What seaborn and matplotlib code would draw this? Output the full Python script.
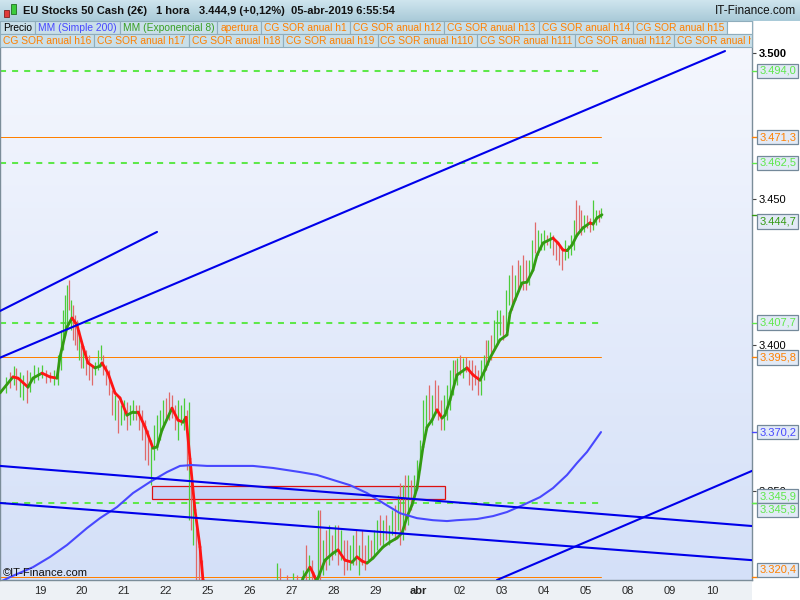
import numpy as np
import matplotlib
matplotlib.use("Agg")
import matplotlib.pyplot as plt
import matplotlib.transforms as mtransforms
from matplotlib.collections import LineCollection
from matplotlib.colors import LinearSegmentedColormap
from matplotlib.patches import Rectangle
import seaborn as sns

W, H = 800, 600

# time axis is in hourly bars, 21 bars per session, bar 0 = start of 19 mar
bars_per_day = 21
day_labels = ['19', '20', '21', '22', '25', '26', '27', '28', '29', 'abr',
              '02', '03', '04', '05', '08', '09', '10']

# hourly candles (high / low / up-bar)
bar_t = [-17, -15, -13, -12, -10, -8.5, -6.5, -5, -3, -1,
         1, 3, 5, 7, 9, 10.5, 11.5, 12.5, 13.5, 14.5,
         15.5, 16.5, 17.5, 18.5, 19.5, 20.5, 21.5, 23, 24.5, 26,
         27.5, 29, 30.5, 31.5, 33, 34.5, 36, 37.5, 39, 40.5,
         42, 43.5, 45, 46.5, 48, 49.5, 51, 52.5, 54, 55.5,
         57, 58.5, 60, 61.5, 63, 64.5, 66, 67.5, 69, 70.5,
         72, 73.5, 74.5, 75.5, 76.5, 78, 79.5, 81,
         118.5, 120, 123.5, 126.5, 128.5,
         131.5, 133, 134.5, 136, 137.5, 139, 140, 141.5, 143, 144.5,
         146, 147.5, 149, 150.5, 152, 153.5, 155, 156.5, 158, 159.5,
         161, 162.5, 164, 165.5, 167, 168.5, 170, 171.5, 173, 174.5,
         176, 177.5, 179, 180, 181.5, 182.5, 184, 185.5, 187, 188.5,
         190, 191.5, 193, 194.5, 196, 197.5, 199, 200.5, 202, 203.5,
         205, 206.5, 207.5, 208.5, 210, 211.5, 213, 214.5, 216, 217.5,
         219, 220.5, 222, 223, 224, 225.5, 227, 228.5, 230, 231.5,
         233, 234.5, 236, 237.5, 239, 240, 241.5, 243, 244.5, 246,
         247.5, 249, 250.5, 252, 253.5, 255, 256.5, 258, 259.5, 261,
         262.5, 264, 265.5, 267, 268, 269.5, 270.5, 272, 273.5, 275,
         276.5, 278, 279.5, 280.5]
bar_hi = [3389.1, 3390.8, 3392.8, 3392.2, 3390.8, 3389.8, 3391.5, 3390.8, 3393.2, 3392.5,
          3393.2, 3391.5, 3390.8, 3391.5, 3396.6, 3405.2, 3412.0, 3417.2, 3420.6, 3422.3,
          3415.5, 3413.7, 3410.3, 3408.6, 3405.2, 3400.0, 3399.0, 3398.3, 3396.6, 3393.2,
          3394.2, 3398.3, 3400.0, 3396.6, 3393.2, 3391.5, 3384.6, 3382.9, 3381.2, 3379.5,
          3381.2, 3380.5, 3379.5, 3381.2, 3379.5, 3379.5, 3377.8, 3374.3, 3370.9, 3367.5,
          3372.6, 3376.0, 3377.8, 3381.2, 3381.9, 3383.9, 3382.9, 3379.5, 3381.2, 3379.5,
          3381.9, 3377.8, 3380.5, 3353.8, 3346.9, 3340.0, 3333.2, 3326.3,
          3325.3, 3323.6, 3321.2, 3321.9, 3321.2,
          3322.9, 3331.5, 3328.0, 3326.3, 3321.2, 3343.5, 3343.5, 3333.2, 3336.6, 3338.3,
          3334.9, 3338.3, 3338.3, 3336.6, 3333.2, 3333.2, 3331.5, 3334.9, 3336.6, 3331.5,
          3336.6, 3331.5, 3334.9, 3333.2, 3336.6, 3340.0, 3341.8, 3340.0, 3341.8, 3338.3,
          3343.5, 3345.2, 3348.6, 3352.7, 3352.0, 3355.5, 3355.5, 3353.8, 3355.5, 3360.6,
          3367.5, 3381.2, 3382.9, 3386.3, 3382.9, 3388.0, 3386.3, 3381.2, 3382.9, 3386.3,
          3391.5, 3394.9, 3394.9, 3395.6, 3396.6, 3395.6, 3395.9, 3394.9, 3394.9, 3393.2,
          3391.5, 3394.9, 3396.6, 3401.8, 3401.8, 3403.5, 3408.6, 3412.0, 3412.0, 3410.3,
          3418.9, 3424.0, 3427.5, 3424.0, 3429.2, 3427.5, 3430.9, 3429.2, 3429.2, 3436.0,
          3442.2, 3439.5, 3438.4, 3439.5, 3437.7, 3438.8, 3437.7, 3436.0, 3434.3, 3432.6,
          3436.0, 3434.3, 3437.7, 3442.9, 3449.7, 3448.0, 3446.3, 3444.6, 3444.6, 3443.6,
          3449.7, 3446.3, 3446.3, 3447.0]
bar_lo = [3383.6, 3385.3, 3386.3, 3384.6, 3382.2, 3381.2, 3380.2, 3383.9, 3387.0, 3388.0,
          3388.7, 3387.0, 3387.4, 3386.3, 3386.3, 3391.5, 3398.3, 3403.5, 3406.9, 3412.0,
          3405.2, 3401.8, 3400.0, 3398.3, 3394.9, 3392.2, 3392.2, 3389.8, 3388.0, 3386.3,
          3389.8, 3391.5, 3394.9, 3389.8, 3386.3, 3382.9, 3376.0, 3374.3, 3369.9, 3372.6,
          3374.3, 3370.9, 3372.6, 3374.3, 3374.3, 3370.9, 3367.5, 3360.6, 3358.9, 3352.0,
          3360.6, 3364.0, 3367.5, 3371.6, 3374.3, 3374.3, 3375.0, 3370.9, 3367.5, 3372.6,
          3370.9, 3357.2, 3340.0, 3336.6, 3331.5, 3316.1, 3314.4, 3312.7,
          3310.0, 3308.0, 3310.0, 3312.0, 3311.0,
          3317.8, 3319.5, 3319.5, 3316.1, 3316.1, 3319.5, 3319.5, 3321.2, 3322.9, 3324.6,
          3326.3, 3328.0, 3324.6, 3326.3, 3321.2, 3322.9, 3322.9, 3324.6, 3324.6, 3321.2,
          3324.6, 3322.9, 3326.3, 3326.3, 3328.0, 3329.8, 3331.5, 3331.5, 3333.2, 3331.5,
          3334.9, 3333.2, 3336.6, 3331.5, 3333.2, 3336.6, 3338.3, 3343.5, 3346.9, 3350.3,
          3357.2, 3365.8, 3370.9, 3374.3, 3372.6, 3377.8, 3374.3, 3370.9, 3370.9, 3374.3,
          3377.8, 3382.9, 3388.0, 3386.3, 3389.8, 3388.7, 3390.8, 3386.3, 3384.6, 3386.3,
          3382.9, 3382.9, 3388.0, 3391.5, 3393.2, 3394.9, 3398.3, 3400.0, 3403.5, 3401.8,
          3405.2, 3413.7, 3412.0, 3415.5, 3418.9, 3420.6, 3418.9, 3418.9, 3420.6, 3425.7,
          3431.6, 3430.9, 3432.6, 3432.6, 3434.3, 3433.3, 3430.9, 3429.2, 3427.5, 3425.7,
          3429.2, 3429.9, 3430.9, 3432.6, 3437.7, 3439.5, 3437.7, 3438.8, 3440.2, 3438.8,
          3439.5, 3441.2, 3442.2, 3443.6]
bar_up = [1, 0, 1, 0, 1, 1, 0, 1, 1, 1,
          1, 0, 0, 1, 1, 1, 1, 1, 1, 0,
          1, 0, 0, 0, 1, 0, 1, 0, 0, 0,
          1, 1, 1, 0, 0, 0, 0, 1, 0, 1,
          1, 0, 1, 1, 0, 0, 0, 0, 0, 1,
          1, 1, 1, 1, 0, 0, 0, 0, 1, 1,
          1, 0, 1, 0, 1, 0, 0, 0,
          1, 0, 0, 1, 0,
          1, 0, 1, 0, 0, 1, 0, 1, 0, 1,
          0, 1, 0, 1, 0, 0, 1, 1, 0, 1,
          0, 0, 1, 0, 1, 1, 0, 1, 0, 1,
          1, 0, 1, 0, 1, 0, 1, 0, 1, 1,
          1, 1, 1, 0, 1, 0, 0, 0, 1, 1,
          1, 1, 0, 1, 0, 1, 0, 0, 0, 0,
          0, 1, 1, 0, 1, 0, 1, 1, 1, 0,
          1, 1, 0, 1, 0, 1, 0, 0, 1, 1,
          0, 1, 1, 1, 0, 1, 0, 0, 0, 0,
          1, 1, 1, 1, 0, 0, 0, 1, 0, 0,
          1, 1, 0, 1]

# MM (Exponencial 8)
ema_t = [-20, -13.5, -11, -6, -3.5, 1, 5, 8.5, 10, 13.5,
         16, 18.5, 21.5, 24, 27.5, 30, 31, 34, 37.5, 40,
         43.5, 46.5, 49, 52.5, 56.5, 58.5, 61, 66, 69, 71.5,
         73, 75, 77.5, 80, 81.5, 86, 93, 103, 113, 123,
         129, 131.5, 135, 136.5, 138, 139, 142.5, 146.5, 149, 152.5,
         156, 158.5, 161, 163.5, 166.5, 171.5, 175, 178.5, 181, 183.5,
         186, 188.5, 191.5, 193.5, 196, 198.5, 201, 202.5, 205, 208.5,
         213.5, 216.5, 220, 222.5, 225, 230, 233.5, 235, 237.5, 241,
         243.5, 246.5, 248.5, 251.5, 256.5, 259, 261.5, 263.5, 266, 268.5,
         271.5, 275, 276.5, 278.5, 281]
ema_v = [3383.6, 3389.1, 3388.7, 3385.6, 3388.7, 3390.4, 3389.1, 3388.7, 3396.0, 3406.2,
         3409.3, 3406.9, 3399.4, 3393.9, 3392.2, 3392.8, 3393.9, 3390.4, 3383.6, 3381.9,
         3376.0, 3377.1, 3377.1, 3372.0, 3364.7, 3365.1, 3370.9, 3378.4, 3374.3, 3373.6,
         3375.3, 3361.0, 3343.5, 3330.8, 3319.5, 3308.0, 3299.0, 3294.0, 3297.0, 3305.0,
         3314.0, 3320.2, 3323.9, 3321.9, 3319.5, 3320.2, 3326.3, 3328.7, 3329.8, 3326.3,
         3325.6, 3327.4, 3326.0, 3325.3, 3327.0, 3330.8, 3332.5, 3333.9, 3335.6, 3341.1,
         3345.2, 3351.0, 3365.1, 3371.9, 3374.3, 3377.8, 3375.0, 3376.0, 3381.2, 3389.8,
         3392.2, 3389.8, 3388.0, 3391.5, 3395.6, 3401.8, 3403.5, 3411.0, 3415.5, 3421.3,
         3421.6, 3425.7, 3430.9, 3435.0, 3436.7, 3435.0, 3432.6, 3432.4, 3434.3, 3437.7,
         3440.2, 3441.9, 3441.5, 3443.6, 3444.7]

# MM (Simple 200)
sma_t = [-20, -15, -3.5, 5, 13.5, 23.5, 30, 38.5, 46.5, 55,
         63.5, 70, 76, 83.5, 96.5, 106.5, 116.5, 130, 138.5, 146.5,
         155, 163.5, 171.5, 180, 188.5, 196.5, 203.5, 208.5, 218.5, 226.5,
         233.5, 241.5, 250, 256.5, 263.5, 268.5, 273.5, 280.5]
sma_v = [3318.8, 3320.5, 3323.9, 3327.4, 3331.5, 3337.3, 3340.7, 3344.5, 3349.3, 3353.1,
         3356.5, 3358.6, 3358.9, 3358.6, 3358.6, 3358.6, 3357.9, 3356.5, 3355.5, 3353.8,
         3352.0, 3349.3, 3345.9, 3342.4, 3340.7, 3340.0, 3339.7, 3340.0, 3340.4, 3341.4,
         3342.8, 3345.2, 3347.9, 3351.0, 3355.5, 3359.6, 3363.4, 3370.2]

# hand drawn trend lines (start bar/price -> end bar/price)
trend_t0 = [-20, -20, -20, -20, 228.5]
trend_v0 = [3411.7, 3395.7, 3358.6, 3345.9, 3319.5]
trend_t1 = [58.5, 342.5, 356, 356, 356]
trend_v1 = [3438.8, 3500.8, 3338.0, 3326.3, 3356.9]

levels_green = [3494.0, 3462.5, 3407.7, 3345.9]
levels_orange = [3471.3, 3395.8, 3320.4]
zone_t = [56, 202.5]
zone_v = [3347.3, 3351.7]

y_ticks = [3350, 3400, 3450, 3500]

legend_row1 = ['Precio', 'MM (Simple 200)', 'MM (Exponencial 8)', 'apertura',
               'CG SOR anual h1', 'CG SOR anual h12', 'CG SOR anual h13',
               'CG SOR anual h14', 'CG SOR anual h15']
legend_row2 = ['CG SOR anual h16', 'CG SOR anual h17', 'CG SOR anual h18',
               'CG SOR anual h19', 'CG SOR anual h110', 'CG SOR anual h111',
               'CG SOR anual h112', 'CG SOR anual h113']

GREEN_LVL = '#5ee84a'
ORANGE = '#ff8000'
BLUE_MM = '#4848ff'
GREEN_MM = '#339a12'
RED_MM = '#ff1414'


def es_num(v, dec):
    s = f"{v:,.{dec}f}"
    return s.replace(",", "#").replace(".", ",").replace("#", ".")


def fx(x):
    return x / W


def fy(y):
    return 1 - y / H


sns.set_style("white")
plt.rcParams['font.family'] = ['Liberation Sans', 'DejaVu Sans']

fig = plt.figure(figsize=(8, 6), dpi=100)
fig.patch.set_facecolor('white')
xmin, xmax, ymin, ymax = -20, 356, 3319.5, 3511.1
ax = fig.add_axes([0, 20 / H, 752 / W, 559 / H])

bg = LinearSegmentedColormap.from_list('bg', ['#f6f8fe', '#d4e0f8'])
ax.imshow(np.linspace(0, 1, 256).reshape(-1, 1), cmap=bg, aspect='auto',
          extent=[xmin, xmax, ymin, ymax], origin='upper', zorder=0)

ax.add_patch(Rectangle((zone_t[0], zone_v[0]), zone_t[1] - zone_t[0], zone_v[1] - zone_v[0],
                       fc='#c6d3f7', ec='#dd1111', lw=0.9, zorder=1))

t_end = bar_t[-1]
for v in levels_green:
    ax.plot([xmin, t_end], [v, v], color=GREEN_LVL, lw=1.45, ls=(0, (3, 3)), zorder=2)
for v in levels_orange:
    ax.plot([xmin, t_end], [v, v], color=ORANGE, lw=0.72, zorder=2, snap=True)

# candles drawn as high-low sticks
cols = ['#4ccc3a' if u else '#e06a6a' for u in bar_up]
ax.vlines(bar_t, bar_lo, bar_hi, colors=cols, lw=0.9, zorder=3)

# EMA coloured by slope
pts = np.column_stack([ema_t, ema_v])
segs = np.stack([pts[:-1], pts[1:]], axis=1)
seg_cols = np.where(np.diff(ema_v) >= 0, GREEN_MM, RED_MM)
ax.add_collection(LineCollection(segs, colors=seg_cols, linewidths=2.0,
                                 capstyle='round', joinstyle='round', zorder=4))

sns.lineplot(x=sma_t, y=sma_v, ax=ax, color=BLUE_MM, lw=1.5, sort=False, zorder=5)

for t0, v0, t1, v1 in zip(trend_t0, trend_v0, trend_t1, trend_v1):
    sns.lineplot(x=[t0, t1], y=[v0, v1], ax=ax, color='#0000ea', lw=1.5, sort=False, zorder=6)

ax.set_xlim(xmin, xmax)
ax.set_ylim(ymin, ymax)
ax.set_xlabel('')
ax.set_ylabel('')
for side in ['left', 'bottom', 'right']:
    ax.spines[side].set_color('#7b8d99')
    ax.spines[side].set_linewidth(1.0)
ax.spines['top'].set_visible(False)

ax.yaxis.tick_right()
ax.set_yticks(y_ticks)
ax.set_yticklabels([es_num(v, 0) for v in y_ticks])
ax.tick_params(axis='y', direction='out', length=3, width=0.8, color='#444444',
               labelsize=8, pad=2, labelcolor='black')
ax.get_yticklabels()[-1].set_fontweight('bold')

ax.set_xticks([bars_per_day * k for k in range(len(day_labels))])
ax.set_xticklabels(day_labels)
ax.tick_params(axis='x', direction='out', length=3, width=0.8, color='#7b8d99',
               labelsize=8, pad=1)
ax.get_xticklabels()[day_labels.index('abr')].set_fontweight('bold')

# price tags on the right axis
blend = mtransforms.blended_transform_factory(ax.transAxes, ax.transData)
tag_values = [levels_green[0], levels_orange[0], levels_green[1], ema_v[-1], levels_green[2],
              levels_orange[1], sma_v[-1], levels_green[3], levels_green[3], levels_orange[2]]
tag_colors = [GREEN_LVL, ORANGE, GREEN_LVL, GREEN_MM, GREEN_LVL,
              ORANGE, BLUE_MM, GREEN_LVL, GREEN_LVL, ORANGE]
tag_dy = [0, 0, 0, -5, 0, 0, 0, 5, -5, 5.5]
for v, c, dy in zip(tag_values, tag_colors, tag_dy):
    ax.plot([1.0, 1.007], [v, v], color=c, lw=1, transform=blend, clip_on=False, zorder=7)
    ax.annotate(es_num(v, 1), xy=(1.0, v), xycoords=blend, xytext=(5.2, dy),
                textcoords='offset points', ha='left', va='center', fontsize=8, color=c,
                bbox=dict(boxstyle='square,pad=0.2', fc='#e2eaf6', ec='#74899a', lw=0.9),
                zorder=8)

# bottom strip
fig.add_artist(Rectangle((0, 0), fx(752), 19 / H, transform=fig.transFigure,
                         fc='#edf1f5', ec='none', zorder=-1))

# title bar
tb = fig.add_axes([0, fy(21), 1, 21 / H])
tbmap = LinearSegmentedColormap.from_list('tb', ['#cfe5ee', '#a9cad8'])
tb.imshow(np.linspace(0, 1, 64).reshape(-1, 1), cmap=tbmap, aspect='auto',
          extent=[0, 1, 0, 1], origin='upper')
tb.axis('off')

# tiny candle icon
fig.add_artist(Rectangle((fx(4), fy(17)), 5 / W, 7 / H, transform=fig.transFigure,
                         fc='#e03a3a', ec='#802020', lw=0.6, zorder=9))
fig.add_artist(Rectangle((fx(11), fy(14)), 5 / W, 10 / H, transform=fig.transFigure,
                         fc='#3ccc3c', ec='#207020', lw=0.6, zorder=9))

title_parts = ['EU Stocks 50 Cash (2€)', '1 hora', '3.444,9 (+0,12%)', '05-abr-2019 6:55:54']
title_x = [23, 156, 199, 291]
for txt, x in zip(title_parts, title_x):
    fig.text(fx(x), fy(10.5), txt, fontsize=8, fontweight='bold', ha='left', va='center',
             color='#111111', zorder=10)
fig.text(fx(796), fy(10.5), 'IT-Finance.com', fontsize=8.5, ha='right', va='center',
         color='#111111', zorder=10)

# legend rows
renderer = fig.canvas.get_renderer()
row1_cols = ['black', BLUE_MM, '#3aa024'] + [ORANGE] * (len(legend_row1) - 3)
row2_cols = [ORANGE] * len(legend_row2)


def legend_row(labels, colors, y0, y1, x_stop, filler):
    x = 0.0
    for lab, col in zip(labels, colors):
        t = fig.text(fx(x + 3), fy((y0 + y1) / 2 + 0.5), lab, fontsize=7.4, color=col,
                     ha='left', va='center', zorder=11)
        w = t.get_window_extent(renderer).width
        right = min(x + w + 6, x_stop)
        fig.add_artist(Rectangle((fx(x), fy(y1)), (right - x) / W, (y1 - y0) / H,
                                 transform=fig.transFigure, fc='#c9dfe9', ec='#8fadbc',
                                 lw=0.8, zorder=10))
        t.set_clip_box(mtransforms.Bbox([[x, H - y1], [x_stop - 1, H - y0]]))
        t.set_clip_on(True)
        x = right
        if x >= x_stop:
            break
    if filler and x < x_stop:
        fig.add_artist(Rectangle((fx(x), fy(y1)), (x_stop - x) / W, (y1 - y0) / H,
                                 transform=fig.transFigure, fc='white', ec='#8fadbc',
                                 lw=0.8, zorder=10))


legend_row(legend_row1, row1_cols, 21, 33.5, 752, True)
legend_row(legend_row2, row2_cols, 34, 46.5, 752, False)

fig.text(fx(3), fy(573), '©IT-Finance.com', fontsize=8, ha='left', va='center',
         color='#111111', zorder=10)

fig.savefig('out.png', dpi=100, facecolor=fig.get_facecolor())
